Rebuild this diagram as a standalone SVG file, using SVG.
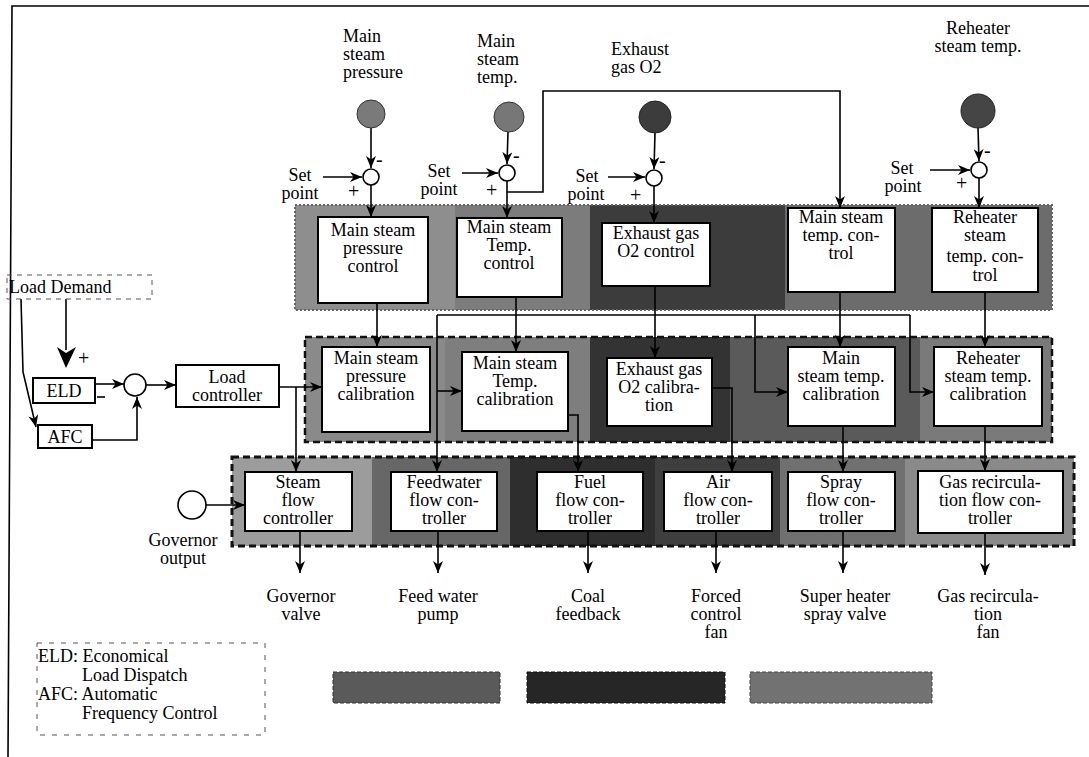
<svg xmlns="http://www.w3.org/2000/svg" width="1089" height="757" viewBox="0 0 1089 757">
<style>
text{font-family:"Liberation Serif","Times New Roman",serif;font-size:18px;fill:#000}
.c{text-anchor:middle}
.s{font-size:20px}
.box{fill:#fff;stroke:#000;stroke-width:2}
.ln{fill:none;stroke:#000;stroke-width:1.6}
.arr{fill:none;stroke:#000;stroke-width:1.6;marker-end:url(#ah)}
.sum{fill:#fff;stroke:#000;stroke-width:1.6}
</style>
<defs>
<marker id="ah" viewBox="0 0 12 10" refX="12" refY="5" markerWidth="12" markerHeight="10" orient="auto" markerUnits="userSpaceOnUse"><path d="M0,0 L12,5 L0,10 L3.5,5 z" fill="#000"/></marker>
</defs>
<rect width="1089" height="757" fill="#fff"/>
<g id="frame"><path class="ln" d="M1089,6 L12,6 L8,757"/></g>

<g id="bands">
<rect x="295" y="205" width="160" height="105" fill="#8e8e8e"/>
<rect x="455" y="205" width="135" height="105" fill="#7c7c7c"/>
<rect x="590" y="205" width="195" height="105" fill="#3c3c3c"/>
<rect x="785" y="205" width="267" height="105" fill="#6c6c6c"/>
<rect x="295" y="205" width="757" height="105" fill="none" stroke="#666" stroke-width="2" stroke-dasharray="2 2"/>
<rect x="305" y="337" width="140" height="105" fill="#8a8a8a"/>
<rect x="445" y="337" width="145" height="105" fill="#7e7e7e"/>
<rect x="590" y="337" width="140" height="105" fill="#333"/>
<rect x="730" y="337" width="190" height="105" fill="#5a5a5a"/>
<rect x="920" y="337" width="132" height="105" fill="#7a7a7a"/>
<rect x="305" y="337" width="747" height="105" fill="none" stroke="#111" stroke-width="2.5" stroke-dasharray="7 4"/>
<rect x="232" y="457" width="140" height="89" fill="#9c9c9c"/>
<rect x="372" y="457" width="138" height="89" fill="#676767"/>
<rect x="510" y="457" width="145" height="89" fill="#2e2e2e"/>
<rect x="655" y="457" width="125" height="89" fill="#3e3e3e"/>
<rect x="780" y="457" width="125" height="89" fill="#707070"/>
<rect x="905" y="457" width="169" height="89" fill="#8a8a8a"/>
<rect x="232" y="457" width="842" height="89" fill="none" stroke="#111" stroke-width="3" stroke-dasharray="7 4"/>
</g>

<g id="connectors">
<line class="arr" x1="371" y1="128" x2="371" y2="168"/>
<line class="arr" x1="371" y1="185" x2="371" y2="217"/>
<line class="arr" x1="323" y1="177" x2="362" y2="177"/>
<line class="arr" x1="508" y1="132" x2="507" y2="164"/>
<line class="arr" x1="507" y1="181" x2="507" y2="218"/>
<line class="arr" x1="462" y1="173" x2="498" y2="173"/>
<path class="arr" d="M507,192 L543,192 L543,91 L840,91 L840,208"/>
<line class="arr" x1="655" y1="133" x2="654" y2="169"/>
<line class="arr" x1="654" y1="186" x2="654" y2="223"/>
<line class="arr" x1="608" y1="177" x2="645" y2="177"/>
<line class="arr" x1="978" y1="128" x2="979" y2="161"/>
<line class="arr" x1="979" y1="178" x2="979" y2="208"/>
<line class="arr" x1="930" y1="170" x2="970" y2="170"/>
<line class="arr" x1="377" y1="303" x2="377" y2="347"/>
<line class="arr" x1="516" y1="297" x2="516" y2="352"/>
<line class="arr" x1="655" y1="286" x2="655" y2="358"/>
<line class="ln" x1="437" y1="315" x2="910" y2="315"/>
<line class="arr" x1="437" y1="315" x2="437" y2="472"/>
<line class="arr" x1="437" y1="391" x2="462" y2="391"/>
<path class="arr" d="M755,315 L755,392 L788,392"/>
<path class="arr" d="M910,315 L910,392 L934,392"/>
<line class="arr" x1="840" y1="292" x2="840" y2="347"/>
<line class="arr" x1="985" y1="292" x2="985" y2="347"/>
<path class="arr" d="M712,388 L732,388 L732,472"/>
<path class="arr" d="M568,415 L578,415 L578,472"/>
<line class="arr" x1="843" y1="426" x2="843" y2="472"/>
<line class="arr" x1="985" y1="426" x2="985" y2="471"/>
<line class="arr" x1="279" y1="387" x2="322" y2="387"/>
<line class="arr" x1="296" y1="387" x2="296" y2="472"/>
<line class="arr" x1="206" y1="505" x2="245" y2="505"/>
<line class="arr" x1="300" y1="531" x2="300" y2="573"/>
<line class="arr" x1="438" y1="531" x2="438" y2="573"/>
<line class="arr" x1="588" y1="531" x2="588" y2="573"/>
<line class="arr" x1="716" y1="531" x2="716" y2="573"/>
<line class="arr" x1="843" y1="531" x2="843" y2="573"/>
<line class="arr" x1="985" y1="533" x2="985" y2="575"/>
<line class="arr" x1="95" y1="384" x2="124" y2="384"/>
<line class="ln" x1="97" y1="397" x2="105" y2="397"/>
<path class="arr" d="M92,440 L137,440 L137,397"/>
<line class="arr" x1="146" y1="385" x2="176" y2="385"/>
<line class="ln" x1="66" y1="299" x2="66" y2="350"/>
<path d="M57,347 L66,353 L76,347 L66,368 z" fill="#000"/>
<path class="arr" d="M21,299 L23,372 L36,427"/>
</g>

<g id="signs">
<text class="s" x="376" y="166">-</text>
<text class="s" x="348" y="198">+</text>
<text class="s" x="513" y="162">-</text>
<text class="s" x="486" y="197">+</text>
<text class="s" x="659" y="167">-</text>
<text class="s" x="630" y="202">+</text>
<text class="s" x="984" y="157">-</text>
<text class="s" x="956" y="190">+</text>
<text class="s" x="78" y="365">+</text>
</g>

<g id="in-msp"><text x="343" y="42">Main</text><text x="343" y="60">steam</text><text x="343" y="78">pressure</text><circle cx="371" cy="114" r="14" fill="#7a7a7a" stroke="#333"/></g>
<g id="in-mst"><text x="477" y="47">Main</text><text x="477" y="65">steam</text><text x="477" y="83">temp.</text><circle cx="509" cy="117" r="15" fill="#777" stroke="#333"/></g>
<g id="in-o2"><text x="611" y="55">Exhaust</text><text x="611" y="73">gas O2</text><circle cx="655" cy="117" r="16" fill="#3c3c3c" stroke="#222"/></g>
<g id="in-rst"><text class="c" x="978" y="34">Reheater</text><text class="c" x="978" y="52">steam temp.</text><circle cx="978" cy="111" r="17" fill="#454545" stroke="#222"/></g>

<g id="sum1"><circle class="sum" cx="371" cy="177" r="8"/><text class="c" x="300" y="181">Set</text><text class="c" x="300" y="199">point</text></g>
<g id="sum2"><circle class="sum" cx="507" cy="173" r="8"/><text class="c" x="439" y="177">Set</text><text class="c" x="439" y="195">point</text></g>
<g id="sum3"><circle class="sum" cx="654" cy="178" r="8"/><text class="c" x="587" y="182">Set</text><text class="c" x="586" y="200">point</text></g>
<g id="sum4"><circle class="sum" cx="979" cy="170" r="8"/><text class="c" x="902" y="174">Set</text><text class="c" x="903" y="192">point</text></g>

<g id="c1"><rect class="box" x="318" y="217" width="110" height="86"/><text class="c" x="373" y="236">Main steam</text><text class="c" x="373" y="254">pressure</text><text class="c" x="373" y="272">control</text></g>
<g id="c2"><rect class="box" x="457" y="218" width="105" height="79"/><text class="c" x="509" y="233">Main steam</text><text class="c" x="509" y="251">Temp.</text><text class="c" x="509" y="269">control</text></g>
<g id="c3"><rect class="box" x="602" y="223" width="108" height="63"/><text class="c" x="656" y="239">Exhaust gas</text><text class="c" x="656" y="257">O2 control</text></g>
<g id="c4"><rect class="box" x="788" y="208" width="107" height="84"/><text class="c" x="841" y="223">Main steam</text><text class="c" x="841" y="241">temp. con-</text><text class="c" x="841" y="259">trol</text></g>
<g id="c5"><rect class="box" x="932" y="208" width="106" height="84"/><text class="c" x="985" y="223">Reheater</text><text class="c" x="985" y="241">steam</text><text class="c" x="985" y="262">temp. con-</text><text class="c" x="985" y="281">trol</text></g>

<g id="m1"><rect class="box" x="322" y="347" width="108" height="85"/><text class="c" x="376" y="364">Main steam</text><text class="c" x="376" y="382">pressure</text><text class="c" x="376" y="400">calibration</text></g>
<g id="m2"><rect class="box" x="462" y="352" width="106" height="79"/><text class="c" x="515" y="369">Main steam</text><text class="c" x="515" y="387">Temp.</text><text class="c" x="515" y="405">calibration</text></g>
<g id="m3"><rect class="box" x="607" y="358" width="105" height="68"/><text class="c" x="659" y="375">Exhaust gas</text><text class="c" x="659" y="393">O2 calibra-</text><text class="c" x="659" y="411">tion</text></g>
<g id="m4"><rect class="box" x="788" y="347" width="107" height="79"/><text class="c" x="841" y="364">Main</text><text class="c" x="841" y="382">steam temp.</text><text class="c" x="841" y="400">calibration</text></g>
<g id="m5"><rect class="box" x="934" y="347" width="108" height="79"/><text class="c" x="988" y="364">Reheater</text><text class="c" x="988" y="382">steam temp.</text><text class="c" x="988" y="400">calibration</text></g>

<g id="f1"><rect class="box" x="245" y="472" width="107" height="59"/><text class="c" x="298" y="488">Steam</text><text class="c" x="298" y="506">flow</text><text class="c" x="298" y="524">controller</text></g>
<g id="f2"><rect class="box" x="391" y="472" width="106" height="59"/><text class="c" x="444" y="488">Feedwater</text><text class="c" x="444" y="506">flow con-</text><text class="c" x="444" y="524">troller</text></g>
<g id="f3"><rect class="box" x="537" y="472" width="106" height="59"/><text class="c" x="590" y="488">Fuel</text><text class="c" x="590" y="506">flow con-</text><text class="c" x="590" y="524">troller</text></g>
<g id="f4"><rect class="box" x="664" y="472" width="108" height="59"/><text class="c" x="718" y="488">Air</text><text class="c" x="718" y="506">flow con-</text><text class="c" x="718" y="524">troller</text></g>
<g id="f5"><rect class="box" x="788" y="472" width="107" height="59"/><text class="c" x="841" y="488">Spray</text><text class="c" x="841" y="506">flow con-</text><text class="c" x="841" y="524">troller</text></g>
<g id="f6"><rect class="box" x="918" y="471" width="145" height="62"/><text class="c" x="990" y="488">Gas recircula-</text><text class="c" x="990" y="506">tion flow con-</text><text class="c" x="990" y="524">troller</text></g>

<g id="o1"><text class="c" x="301" y="602">Governor</text><text class="c" x="301" y="620">valve</text></g>
<g id="o2"><text class="c" x="438" y="602">Feed water</text><text class="c" x="438" y="620">pump</text></g>
<g id="o3"><text class="c" x="588" y="602">Coal</text><text class="c" x="588" y="620">feedback</text></g>
<g id="o4"><text class="c" x="716" y="602">Forced</text><text class="c" x="716" y="620">control</text><text class="c" x="716" y="638">fan</text></g>
<g id="o5"><text class="c" x="845" y="602">Super heater</text><text class="c" x="845" y="620">spray valve</text></g>
<g id="o6"><text class="c" x="988" y="602">Gas recircula-</text><text class="c" x="988" y="620">tion</text><text class="c" x="988" y="638">fan</text></g>

<g id="gov"><circle cx="192" cy="505" r="14" fill="#fff" stroke="#000" stroke-width="1.6"/><text class="c" x="183" y="546">Governor</text><text class="c" x="183" y="564">output</text></g>

<g id="load-demand"><rect x="7" y="275" width="145" height="24" fill="none" stroke="#555" stroke-dasharray="5 5"/><text x="9" y="293">Load Demand</text></g>
<g id="eld"><rect class="box" x="33" y="378" width="62" height="25" stroke-width="1.6"/><text class="c" x="64" y="397">ELD</text></g>
<g id="afc"><rect class="box" x="38" y="425" width="54" height="23" stroke-width="1.6"/><text class="c" x="65" y="443">AFC</text></g>
<g id="sum0"><circle class="sum" cx="135" cy="385" r="11"/></g>
<g id="load-ctrl"><rect class="box" x="176" y="365" width="103" height="42" stroke-width="1.6"/><text class="c" x="227" y="383">Load</text><text class="c" x="227" y="401">controller</text></g>

<g id="legend"><rect x="37" y="643" width="228" height="92" fill="none" stroke="#555" stroke-dasharray="5 7"/><text x="38" y="662">ELD: Economical</text><text x="82" y="681">Load Dispatch</text><text x="38" y="700">AFC: Automatic</text><text x="82" y="719">Frequency Control</text></g>
<g id="swatches">
<rect x="333" y="672" width="167" height="31" fill="#5a5a5a" stroke="#333" stroke-dasharray="4 2"/>
<rect x="527" y="672" width="198" height="31" fill="#262626" stroke="#111" stroke-dasharray="4 2"/>
<rect x="750" y="672" width="182" height="31" fill="#727272" stroke="#444" stroke-dasharray="4 2"/>
</g>
</svg>
